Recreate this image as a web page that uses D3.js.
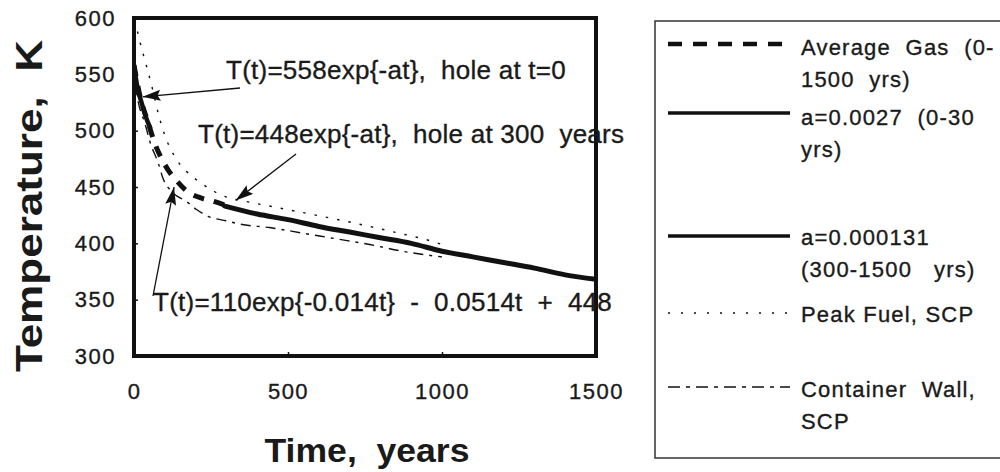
<!DOCTYPE html>
<html>
<head>
<meta charset="utf-8">
<script src="https://cdn.jsdelivr.net/npm/d3@7"></script>
<style>
  html, body { margin: 0; padding: 0; background: #fff; }
  svg { display: block; font-family: Arial, "Liberation Sans", Helvetica, sans-serif; }
  text { white-space: pre; fill: #1a1a1a; }
  .ink { stroke: #1a1a1a; stroke-width: 0.35; }
</style>
</head>
<body>
<svg id="chart" width="1000" height="472"></svg>
<script>
// Axis ticks
const xTicks = [0, 500, 1000, 1500];
const yTicks = [300, 350, 400, 450, 500, 550, 600];

// Average gas temperature (years, K)
const gasYears = [0, 20, 46, 70, 90, 111, 140, 173, 220, 262, 295];
const gasTemp  = [558, 530, 507, 487, 475, 465, 455, 446, 440, 437, 434];

// Fit a=0.0027, early period
const fitEarlyYears = [0, 6, 12, 20, 30, 40, 52];
const fitEarlyTemp  = [558, 547, 537, 529, 520, 511, 503];

// Fit a=0.000131, 300-1500 years
const fitLateYears = [295, 400, 500, 600, 700, 800, 900, 1000, 1100, 1200, 1300, 1400, 1500];
const fitLateTemp  = [433, 426, 421, 415, 410, 405, 400, 393, 388, 383, 378, 372, 368];

// Peak fuel, SCP
const fuelYears = [3, 20, 40, 60, 80, 100, 130, 170, 215, 260, 300, 350, 460, 590, 715, 845, 965, 1000];
const fuelTemp  = [598, 578, 558, 537, 514, 496, 478, 464, 454, 446, 441, 438, 432, 425, 418, 410, 402, 399];

// Container wall, SCP
const wallYears = [0, 15, 36, 52, 79, 95, 122, 171, 203, 240, 300, 345, 440, 548, 657, 765, 871, 969, 1000];
const wallTemp  = [548, 524, 506, 490, 471, 457, 446, 437, 430, 424, 420, 417, 414, 409, 404, 399, 393, 389, 388];

const svg = d3.select("#chart");
const ink = "#111";

const x = d3.scaleLinear().domain([0, 1500]).range([134, 596]);
const y = d3.scaleLinear().domain([300, 600]).range([356, 18]);

const zip = (a, b) => a.map((v, i) => [v, b[i]]);
const line = d3.line().x(d => x(d[0])).y(d => y(d[1])).curve(d3.curveMonotoneX);

const defs = svg.append("defs");
defs.append("clipPath").attr("id", "plotClip")
  .append("rect").attr("x", x(0)).attr("y", y(600)).attr("width", x(1500) - x(0)).attr("height", y(300) - y(600));

defs.append("marker")
  .attr("id", "arrow").attr("viewBox", "0 0 18 11").attr("refX", 18).attr("refY", 5.5)
  .attr("markerWidth", 18).attr("markerHeight", 11).attr("markerUnits", "userSpaceOnUse")
  .attr("orient", "auto")
  .append("path").attr("d", "M0,0 L18,5.5 L0,11 L3,5.5 Z").attr("fill", ink);

// Series styles
const series = [
  { name: "gas",   data: zip(gasYears, gasTemp),           width: 5,   dash: "11,10" },
  { name: "fuel",  data: zip(fuelYears, fuelTemp),         width: 1.4, dash: "2.5,9" },
  { name: "wall",  data: zip(wallYears, wallTemp),         width: 1.4, dash: "10,6,3,6" },
  { name: "early", data: zip(fitEarlyYears, fitEarlyTemp), width: 4.5, dash: null },
  { name: "late",  data: zip(fitLateYears, fitLateTemp),   width: 5,   dash: null }
];

const plot = svg.append("g").attr("clip-path", "url(#plotClip)");
series.forEach(s => {
  plot.append("path")
    .attr("d", line(s.data))
    .attr("fill", "none")
    .attr("stroke", ink)
    .attr("stroke-width", s.width)
    .attr("stroke-linecap", s.dash ? "butt" : "round")
    .attr("stroke-dasharray", s.dash);
});

// Axes
const yAxis = d3.axisLeft(y).tickValues(yTicks).tickSize(-4).tickPadding(18).tickFormat(d3.format("d"));
const gy = svg.append("g").attr("transform", `translate(${x(0)},0)`).call(yAxis);
gy.select(".domain").remove();
gy.selectAll("line").attr("stroke", ink).attr("stroke-width", 1.5);
gy.selectAll("text").attr("font-size", 22).attr("fill", "#1a1a1a").attr("letter-spacing", 1.5).attr("class", "ink");

const xAxis = d3.axisBottom(x).tickValues(xTicks).tickSize(-4).tickPadding(27).tickFormat(d3.format("d"));
const gx = svg.append("g").attr("transform", `translate(0,${y(300)})`).call(xAxis);
gx.select(".domain").remove();
gx.selectAll("line").attr("stroke", ink).attr("stroke-width", 1.5);
gx.selectAll("text").attr("font-size", 22).attr("fill", "#1a1a1a").attr("letter-spacing", 1.5).attr("class", "ink");

// Plot frame
svg.append("rect")
  .attr("x", x(0)).attr("y", y(600))
  .attr("width", x(1500) - x(0)).attr("height", y(300) - y(600))
  .attr("fill", "none").attr("stroke", ink).attr("stroke-width", 4);

// Axis titles
svg.append("text")
  .attr("transform", `translate(42,206) rotate(-90)`)
  .attr("text-anchor", "middle").attr("font-size", 36).attr("font-weight", "bold")
  .attr("textLength", 332).attr("lengthAdjust", "spacingAndGlyphs")
  .text("Temperature,  K");

svg.append("text")
  .attr("x", 367).attr("y", 462)
  .attr("text-anchor", "middle").attr("font-size", 34).attr("font-weight", "bold")
  .attr("textLength", 205).attr("lengthAdjust", "spacingAndGlyphs")
  .text("Time,  years");

// Annotations with arrows
const notes = [
  { text: "T(t)=558exp{-at},  hole at t=0",            tx: 226, ty: 79,  from: [240, 88],  to: [28, 530] },
  { text: "T(t)=448exp{-at},  hole at 300  years",      tx: 198, ty: 143, from: [296, 154], to: [330, 438] },
  { text: "T(t)=110exp{-0.014t}  -  0.0514t  +  448",    tx: 153, ty: 311, from: [153, 296], to: [130, 450] }
];
notes.forEach(n => {
  svg.append("text").attr("x", n.tx).attr("y", n.ty).attr("font-size", 26)
    .attr("letter-spacing", 0.25).attr("class", "ink").text(n.text);
  svg.append("line")
    .attr("x1", n.from[0]).attr("y1", n.from[1])
    .attr("x2", x(n.to[0])).attr("y2", y(n.to[1]))
    .attr("stroke", ink).attr("stroke-width", 1.3)
    .attr("marker-end", "url(#arrow)");
});

// Legend
const legend = svg.append("g");
legend.append("rect")
  .attr("x", 655).attr("y", 21).attr("width", 360).attr("height", 437)
  .attr("fill", "none").attr("stroke", "#333").attr("stroke-width", 1.5);

const legendItems = [
  { ly: 44,  dash: "14,11",    width: 4.5, lines: ["Average  Gas  (0-", "1500  yrs)"], ty: 55 },
  { ly: 113, dash: null,       width: 3.5, lines: ["a=0.0027  (0-30", "yrs)"], ty: 125 },
  { ly: 236, dash: null,       width: 3.5, lines: ["a=0.000131", "(300-1500   yrs)"], ty: 245 },
  { ly: 313, dash: "2,11",     width: 1.4, lines: ["Peak Fuel, SCP"], ty: 322 },
  { ly: 387, dash: "12,6,4,6", width: 1.4, lines: ["Container  Wall,", "SCP"], ty: 397 }
];
legendItems.forEach(it => {
  legend.append("line")
    .attr("x1", 668).attr("x2", 790).attr("y1", it.ly).attr("y2", it.ly)
    .attr("stroke", ink)
    .attr("stroke-width", it.width)
    .attr("stroke-dasharray", it.dash);
  it.lines.forEach((t, i) => {
    legend.append("text").attr("x", 801).attr("y", it.ty + i * 32)
      .attr("font-size", 22).attr("letter-spacing", 1.2).attr("class", "ink").text(t);
  });
});
</script>
</body>
</html>
